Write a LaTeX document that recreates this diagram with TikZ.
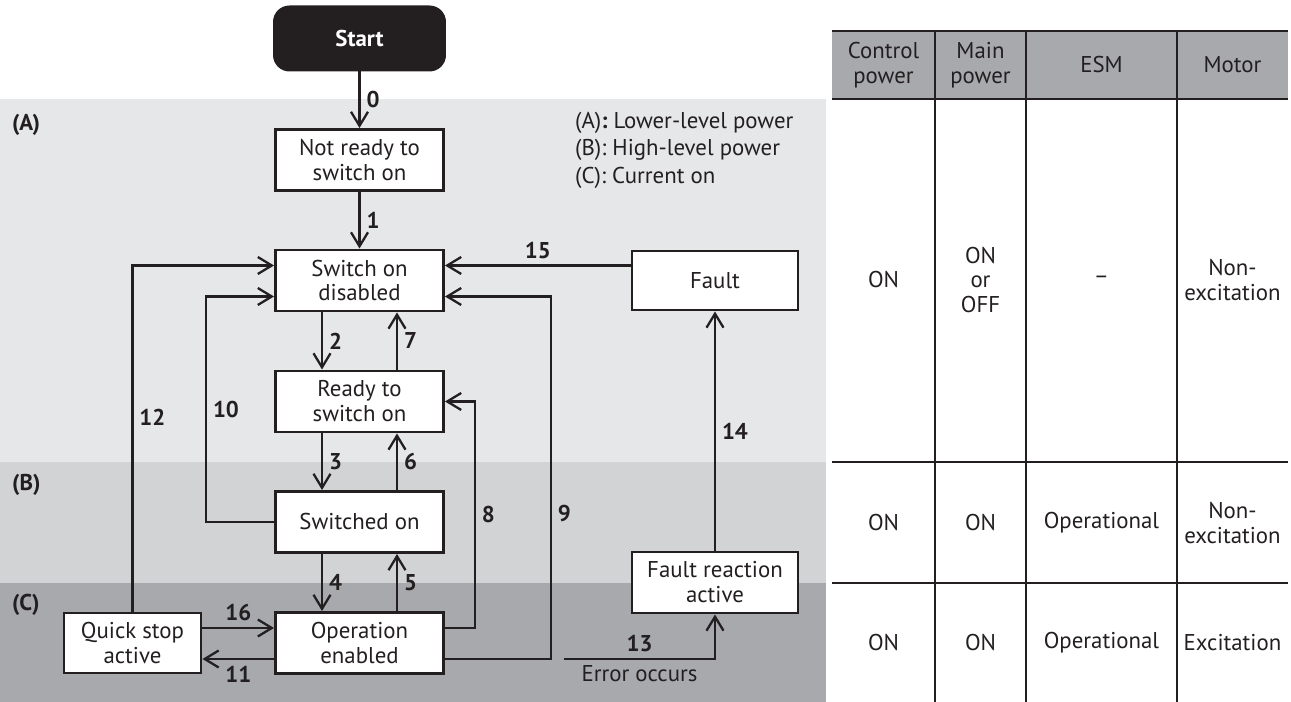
\documentclass[tikz,border=0pt]{standalone}
\usepackage{fontspec}
\setmainfont{PT Sans}
\usetikzlibrary{arrows.meta}
\definecolor{ink}{HTML}{231F20}
\definecolor{zoneA}{HTML}{E6E7E8}
\definecolor{zoneB}{HTML}{D1D3D4}
\definecolor{zoneC}{HTML}{A7A9AC}

\begin{document}
\begin{tikzpicture}[
  every node/.style={font=\fontsize{13}{14.2}\selectfont, text=ink},
  state/.style={draw=ink, line width=1.7pt, fill=white, align=center,
    minimum width=3.36cm, minimum height=1.22cm, inner sep=0pt},
  trans/.style={draw=ink, line width=1.3pt, -{Straight Barb[length=0.28cm,width=0.34cm]}},
  num/.style={font=\fontsize{13}{14.2}\selectfont\bfseries},
  cell/.style={align=center},
  grid/.style={draw=ink, line width=0.9pt}
]
  \useasboundingbox (0,0) rectangle (25.82,-14.04);

  % power zones
  \fill[zoneA] (0,-1.98) rectangle (16.52,-9.24);
  \fill[zoneB] (0,-9.24) rectangle (16.52,-11.66);
  \fill[zoneC] (0,-11.66) rectangle (16.52,-14.04);
  \node[num, anchor=west] (zA) at (0.12,-2.5) {(A)};
  \node[num, anchor=west] (zB) at (0.12,-9.7) {(B)};
  \node[num, anchor=west] (zC) at (0.12,-12.1) {(C)};
  \node[anchor=west, align=left, font=\fontsize{13}{15.6}\selectfont] (legend) at (11.38,-3.0)
    {(A)\textbf{:} Lower-level power\\(B): High-level power\\(C): Current on};

  % states
  \node[state, fill=ink, text=white, rounded corners=0.3cm, minimum width=3.4cm,
    minimum height=1.26cm, font=\fontsize{13}{14.2}\selectfont\bfseries] (start) at (7.19,-0.77) {Start};
  \node[state] (nrso) at (7.19,-3.2) {Not ready to\\switch on};
  \node[state] (sod) at (7.19,-5.61) {Switch on\\disabled};
  \node[state] (rtso) at (7.19,-8.03) {Ready to\\switch on};
  \node[state] (swon) at (7.19,-10.44) {Switched on};
  \node[state] (open) at (7.19,-12.86) {Operation\\enabled};
  \node[state, minimum width=2.74cm, minimum height=1.2cm] (qsa) at (2.65,-12.86) {Quick stop\\active};
  \node[state, minimum width=3.32cm, minimum height=1.18cm] (fault) at (14.3,-5.61) {Fault};
  \node[state, minimum width=3.32cm] (fra) at (14.3,-11.65) {Fault reaction\\active};
  \coordinate (err) at (11.28,-13.18);

  % transitions
  \draw[trans] (start) -- node[num, right] {0} (nrso);
  \draw[trans] (nrso) -- node[num, right] {1} (sod);
  \draw[trans] ([xshift=-0.75cm]sod.south) -- node[num, right] {2} ([xshift=-0.75cm]rtso.north);
  \draw[trans] ([xshift=-0.75cm]rtso.south) -- node[num, right] {3} ([xshift=-0.75cm]swon.north);
  \draw[trans] ([xshift=-0.75cm]swon.south) -- node[num, right] {4} ([xshift=-0.75cm]open.north);
  \draw[trans] ([xshift=0.75cm]open.north) -- node[num, right] {5} ([xshift=0.75cm]swon.south);
  \draw[trans] ([xshift=0.75cm]swon.north) -- node[num, right] {6} ([xshift=0.75cm]rtso.south);
  \draw[trans] ([xshift=0.75cm]rtso.north) -- node[num, right] {7} ([xshift=0.75cm]sod.south);
  \draw[trans] ([yshift=0.3cm]open.east) -- ++(0.6,0) |- node[num, right, pos=0.25] {8} (rtso.east);
  \draw[trans] ([yshift=-0.32cm]open.east) -- ++(2.12,0) |- node[num, right, pos=0.2] {9} ([yshift=-0.32cm]sod.east);
  \draw[trans] (swon.west) -- ++(-1.36,0) |- node[num, right, pos=0.25] {10} ([yshift=-0.32cm]sod.west);
  \draw[trans] ([yshift=-0.32cm]open.west) -- node[num, below] {11} ([yshift=-0.32cm]qsa.east);
  \draw[trans] (qsa.north) |- node[num, right, pos=0.28] {12} ([yshift=0.3cm]sod.west);
  \draw[trans] (err) -| node[num, above, pos=0.25] {13} node[below, pos=0.25] {Error occurs} (fra.south);
  \draw[trans] (fra) -- node[num, right] {14} (fault);
  \draw[trans] ([yshift=0.3cm]fault.west) -- node[num, above] {15} ([yshift=0.3cm]sod.east);
  \draw[trans] ([yshift=0.3cm]qsa.east) -- node[num, above] {16} ([yshift=0.3cm]open.west);

  % table
  \fill[zoneC] (16.64,-0.62) rectangle (25.76,-1.98);
  \draw[grid] (16.64,-0.62) -- (25.76,-0.62);
  \foreach \y in {-1.98,-9.24,-11.66}
    \draw[grid, line width=1.2pt] (16.64,\y) -- (25.76,\y);
  \foreach \x in {18.7,20.52,23.54}
    \draw[grid] (\x,-0.62) -- (\x,-14.04);

  \node[cell] (hctl) at (17.67,-1.3) {Control\\power};
  \node[cell] (hmain) at (19.61,-1.3) {Main\\power};
  \node (hesm) at (22.03,-1.3) {ESM};
  \node (hmot) at (24.65,-1.3) {Motor};

  \node (actl) at (17.67,-5.6) {ON};
  \node[cell] (amain) at (19.61,-5.6) {ON\\or\\OFF};
  \node (aesm) at (22.03,-5.6) {\textendash};
  \node[cell] (amot) at (24.65,-5.6) {Non-\\excitation};

  \node (bctl) at (17.67,-10.46) {ON};
  \node (bmain) at (19.61,-10.46) {ON};
  \node (besm) at (22.03,-10.46) {Operational};
  \node[cell] (bmot) at (24.65,-10.46) {Non-\\excitation};

  \node (cctl) at (17.67,-12.86) {ON};
  \node (cmain) at (19.61,-12.86) {ON};
  \node (cesm) at (22.03,-12.86) {Operational};
  \node (cmot) at (24.65,-12.86) {Excitation};
\end{tikzpicture}
\end{document}
